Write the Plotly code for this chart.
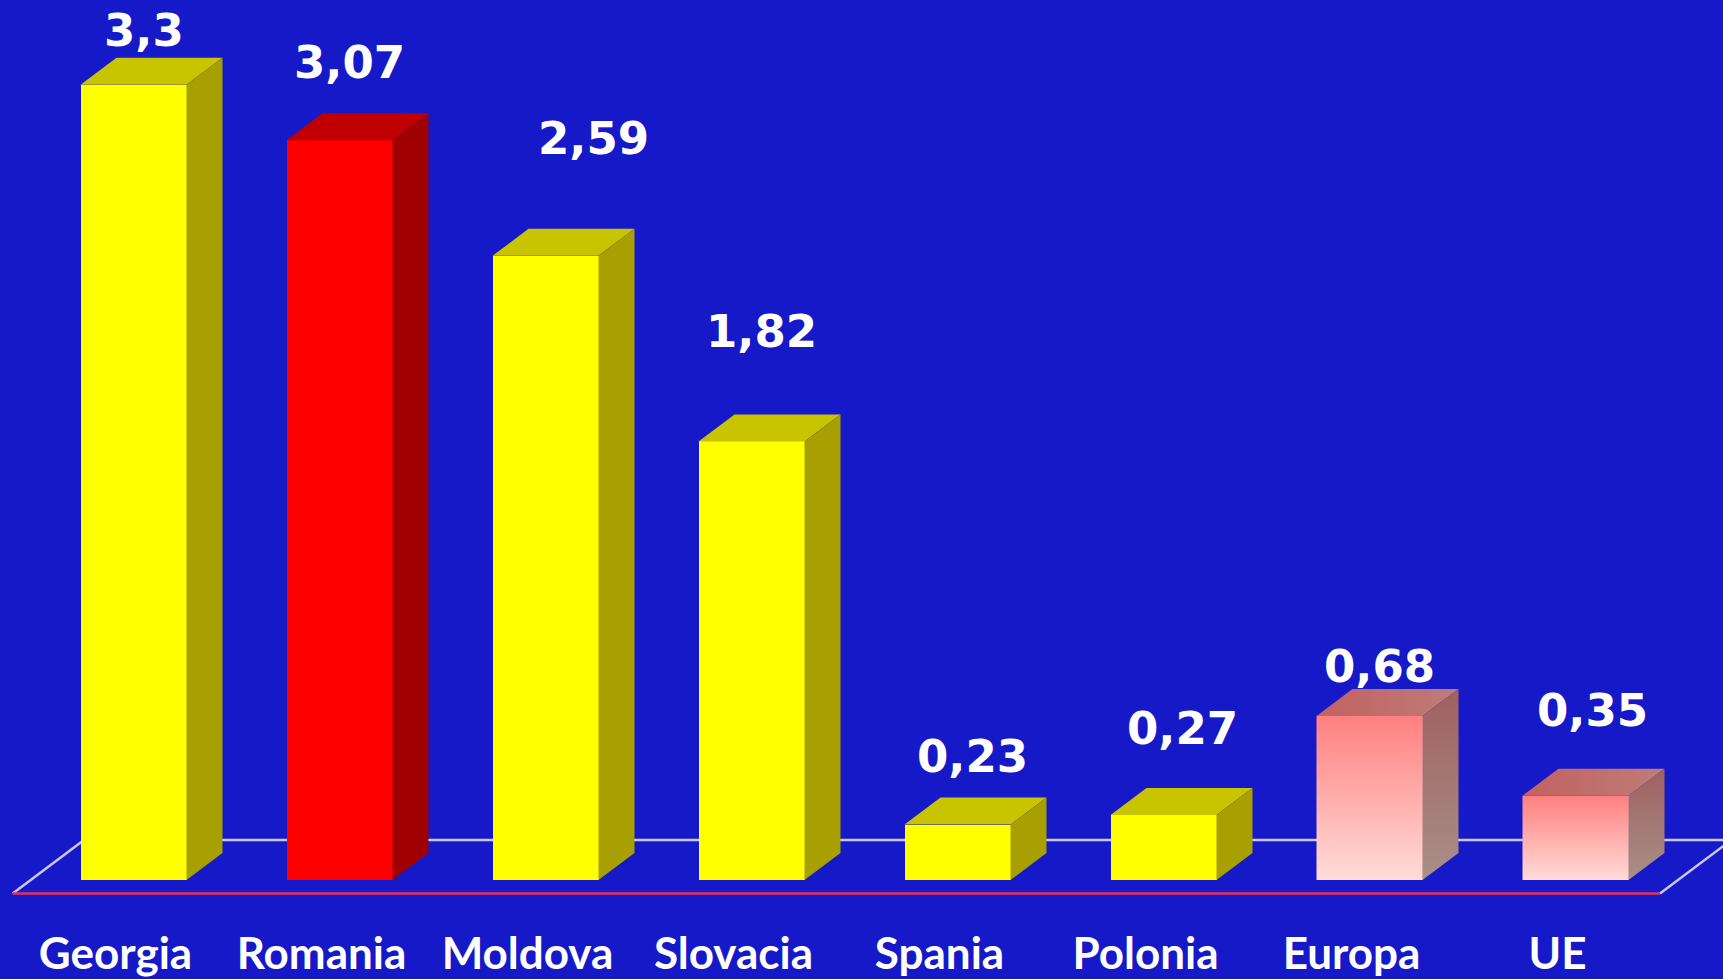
import plotly.graph_objects as go

categories = ["Georgia", "Romania", "Moldova", "Slovacia", "Spania", "Polonia", "Europa", "UE"]
values = [3.3, 3.07, 2.59, 1.82, 0.23, 0.27, 0.68, 0.35]
groups = ["yellow", "red", "yellow", "yellow", "yellow", "yellow", "pink", "pink"]

# value labels were placed by hand in the original -> per-label nudges (px)
label_dx = [10, 10, 48, 10, 15, 19, 10, 17]
label_rise = [40, 63, 103, 95, 54, 72, 35, 71]

palette = {
    "yellow": dict(front="#FFFF00", top="#C8C400", side="#A8A000"),
    "red": dict(front="#FF0000", top="#C00000", side="#A00000"),
    "pink": dict(front="#FFB4B4", top="#C06464", side="#A27C78"),
}
pink_front_scale = [[0, "#FFDCD8"], [1, "#FF8080"]]
pink_side_scale = [[0, "#A89088"], [1, "#A06060"]]
pink_top_scale = [[0, "#C26262"], [1, "#BE7C78"]]

BG = "#1619C8"
W, H = 1723, 979
PX_X = 206   # px per category step
PX_Y = 241   # px per unit of value
BAR_W = 106 / PX_X
DX = 36 / PX_X   # 3D depth offset
DY = 27 / PX_Y

x0 = -133.5 / PX_X
x1 = x0 + W / PX_X
y0 = -16 / PX_Y
y1 = 880 / PX_Y
MB = 83

idx = list(range(len(categories)))

fig = go.Figure()

# 1. front faces
fig.add_trace(go.Bar(
    x=idx, y=values, width=BAR_W,
    marker_color=[palette[g]["front"] for g in groups],
    marker_line_width=0,
    hoverinfo="skip",
))

# 2. top + side faces (and gradient fronts for the pink bars)
for i, v in enumerate(values):
    g = groups[i]
    xl, xr = i - BAR_W / 2, i + BAR_W / 2
    top_x = [xl, xl + DX, xr + DX, xr, xl]
    top_y = [v, v + DY, v + DY, v, v]
    side_x = [xr, xr + DX, xr + DX, xr, xr]
    side_y = [0, DY, v + DY, v, 0]
    common = dict(mode="lines", fill="toself", line=dict(width=0), hoverinfo="skip", showlegend=False)
    if g == "pink":
        fig.add_trace(go.Scatter(x=[xl, xr, xr, xl, xl], y=[0, 0, v, v, 0],
                                 fillgradient=dict(type="vertical", colorscale=pink_front_scale), **common))
        fig.add_trace(go.Scatter(x=top_x, y=top_y,
                                 fillgradient=dict(type="horizontal", colorscale=pink_top_scale), **common))
        fig.add_trace(go.Scatter(x=side_x, y=side_y,
                                 fillgradient=dict(type="vertical", colorscale=pink_side_scale), **common))
    else:
        fig.add_trace(go.Scatter(x=top_x, y=top_y, fillcolor=palette[g]["top"], **common))
        fig.add_trace(go.Scatter(x=side_x, y=side_y, fillcolor=palette[g]["side"], **common))

# 3. floor frame
FLOOR_FRONT = -13.5 / PX_Y
FLOOR_BACK = 40 / PX_Y
FLOOR_LEFT = x0 + 12.7 / PX_X
FLOOR_RIGHT = x0 + 1660 / PX_X
FLOOR_DX = 71.3 / PX_X
frame = "#C8C8F0"
for (xa, ya, xb, yb, col) in [
    (FLOOR_LEFT + FLOOR_DX, FLOOR_BACK, FLOOR_RIGHT + FLOOR_DX, FLOOR_BACK, frame),
    (FLOOR_LEFT, FLOOR_FRONT, FLOOR_LEFT + FLOOR_DX, FLOOR_BACK, frame),
    (FLOOR_RIGHT, FLOOR_FRONT, FLOOR_RIGHT + FLOOR_DX, FLOOR_BACK, frame),
    (FLOOR_LEFT, FLOOR_FRONT, FLOOR_RIGHT, FLOOR_FRONT, "#E8305A"),
]:
    fig.add_shape(type="line", x0=xa, y0=ya, x1=xb, y1=yb, xref="x", yref="y",
                  line=dict(color=col, width=2.5), layer="below")

# 4. value labels
for i, v in enumerate(values):
    fig.add_annotation(
        x=i, y=v, xref="x", yref="y",
        text=f"{v:g}".replace(".", ","),
        showarrow=False, xanchor="center", yanchor="bottom",
        xshift=label_dx[i], yshift=label_rise[i] - 14,
        font=dict(family="DejaVu Sans", size=45, color="white", weight="bold"),
    )

fig.update_layout(
    width=W, height=H,
    template="none",
    paper_bgcolor=BG, plot_bgcolor=BG,
    margin=dict(l=0, r=0, t=0, b=MB, pad=0),
    showlegend=False,
    bargap=0,
)
fig.update_xaxes(
    range=[x0, x1], tickvals=idx, ticktext=categories,
    showgrid=False, zeroline=False, showline=False, ticks="",
    ticklabelshift=-18, ticklabelstandoff=28, automargin=False,
    tickfont=dict(family="Lato", size=44, color="white", weight="bold"),
)
fig.update_yaxes(range=[y0, y1], visible=False, showgrid=False, zeroline=False)

fig.write_html(
    "out.html",
    config={"displayModeBar": False},
    post_script="document.body.style.margin='0';document.body.style.background='" + BG + "';",
)
